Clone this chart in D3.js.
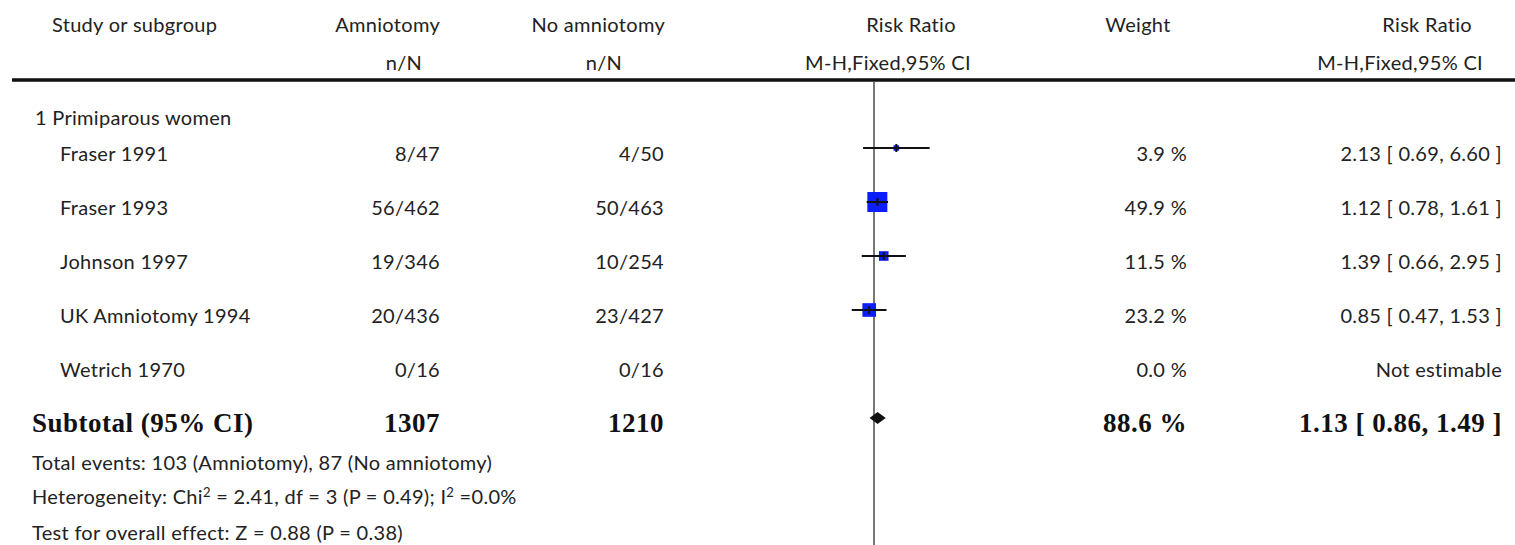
<!DOCTYPE html>
<html lang="en">

<head>
  <meta charset="utf-8">
  <title>Amniotomy forest plot</title>
  <style>
    body {
      margin: 0;
      background: #fff;
    }
    text {
      font-family: Lato, 'Noto Sans', sans-serif;
      font-size: 20px;
      letter-spacing: 0.3px;
      fill: #222;
    }
    .bold {
      font-family: 'Liberation Serif', 'DejaVu Serif', serif;
      font-weight: bold;
      font-size: 27px;
      letter-spacing: 0.5px;
      fill: #111;
    }
  </style>
  <script src="https://d3js.org/d3.v7.min.js"></script>
</head>

<body>
  <script>
    // study level data
    const studies = ["Fraser 1991", "Fraser 1993", "Johnson 1997", "UK Amniotomy 1994", "Wetrich 1970"];
    const amnioEvents = [8, 56, 19, 20, 0];
    const amnioTotal = [47, 462, 346, 436, 16];
    const noAmnioEvents = [4, 50, 10, 23, 0];
    const noAmnioTotal = [50, 463, 254, 427, 16];
    const riskRatio = [2.13, 1.12, 1.39, 0.85, null];
    const ciLow = [0.69, 0.78, 0.66, 0.47, null];
    const ciHigh = [6.60, 1.61, 2.95, 1.53, null];
    const weights = [3.9, 49.9, 11.5, 23.2, 0.0];

    // subtotal
    const subgroupLabel = "1 Primiparous women";
    const subtotalTotals = [1307, 1210];
    const subtotalRR = [1.13, 0.86, 1.49];
    const subtotalWeight = 88.6;

    const svgWidth = 1515;
    const svgHeight = 545;

    const svg = d3.select("body")
      .append("svg")
      .attr("width", svgWidth)
      .attr("height", svgHeight);

    // log scale for the risk ratio, centred on 1
    const x = d3.scaleLog().domain([0.01, 100]).range([874 - 29.5 * Math.log(100), 874 + 29.5 * Math.log(100)]);
    const rowY = d3.scaleLinear().domain([0, 1]).range([148, 202]);
    const boxSize = d3.scaleSqrt().domain([0, 49.9]).range([0, 20]);
    const f2 = d3.format(".2f");
    const f1 = d3.format(".1f");

    // column anchors
    const colStudy = 60;
    const colAmnio = 440;
    const colNoAmnio = 664;
    const colWeight = 1187;
    const colCI = 1502;

    // header
    const header = [
      {t: "Study or subgroup", x: 52, y: 32, a: "start"},
      {t: "Amniotomy", x: 440, y: 32, a: "end"},
      {t: "n/N", x: 404, y: 70, a: "middle"},
      {t: "No amniotomy", x: 665, y: 32, a: "end"},
      {t: "n/N", x: 604, y: 70, a: "middle"},
      {t: "Risk Ratio", x: 911, y: 32, a: "middle"},
      {t: "M-H,Fixed,95% CI", x: 888, y: 70, a: "middle"},
      {t: "Weight", x: 1138, y: 32, a: "middle"},
      {t: "Risk Ratio", x: 1472, y: 32, a: "end"},
      {t: "M-H,Fixed,95% CI", x: 1483, y: 70, a: "end"}
    ];
    svg.selectAll("text.head")
      .data(header)
      .join("text")
      .attr("class", "head")
      .attr("x", d => d.x)
      .attr("y", d => d.y)
      .attr("text-anchor", d => d.a)
      .text(d => d.t);

    svg.append("line")
      .attr("x1", 12).attr("x2", svgWidth)
      .attr("y1", 80).attr("y2", 80)
      .style("stroke", "#111")
      .style("stroke-width", 3.5);

    // line of no effect
    svg.append("line")
      .attr("x1", x(1)).attr("x2", x(1))
      .attr("y1", 82).attr("y2", svgHeight)
      .style("stroke", "#777")
      .style("stroke-width", 2);

    svg.append("text")
      .attr("x", 35)
      .attr("y", 125)
      .text(subgroupLabel);

    // study rows
    const rows = svg.selectAll("g.row")
      .data(studies)
      .join("g")
      .attr("class", "row");

    rows.append("text")
      .attr("x", colStudy)
      .attr("y", (d, i) => rowY(i) + 13)
      .text(d => d);
    rows.append("text")
      .attr("x", colAmnio)
      .attr("y", (d, i) => rowY(i) + 13)
      .attr("text-anchor", "end")
      .text((d, i) => amnioEvents[i] + "/" + amnioTotal[i]);
    rows.append("text")
      .attr("x", colNoAmnio)
      .attr("y", (d, i) => rowY(i) + 13)
      .attr("text-anchor", "end")
      .text((d, i) => noAmnioEvents[i] + "/" + noAmnioTotal[i]);
    rows.append("text")
      .attr("x", colWeight)
      .attr("y", (d, i) => rowY(i) + 13)
      .attr("text-anchor", "end")
      .text((d, i) => f1(weights[i]) + " %");
    rows.append("text")
      .attr("x", colCI)
      .attr("y", (d, i) => rowY(i) + 13)
      .attr("text-anchor", "end")
      .text((d, i) => riskRatio[i] == null ? "Not estimable"
        : f2(riskRatio[i]) + " [ " + f2(ciLow[i]) + ", " + f2(ciHigh[i]) + " ]");

    const est = studies.map((s, i) => i).filter(i => riskRatio[i] != null);

    svg.selectAll("rect.box")
      .data(est)
      .join("rect")
      .attr("class", "box")
      .attr("x", i => x(riskRatio[i]) - boxSize(weights[i]) / 2)
      .attr("y", i => rowY(i) - boxSize(weights[i]) / 2)
      .attr("width", i => boxSize(weights[i]))
      .attr("height", i => boxSize(weights[i]))
      .style("fill", "#0a1eff");

    svg.selectAll("line.ci")
      .data(est)
      .join("line")
      .attr("class", "ci")
      .attr("x1", i => x(ciLow[i]))
      .attr("x2", i => x(ciHigh[i]))
      .attr("y1", i => rowY(i))
      .attr("y2", i => rowY(i))
      .style("stroke", "#111")
      .style("stroke-width", 2);

    svg.selectAll("line.tick")
      .data(est)
      .join("line")
      .attr("class", "tick")
      .attr("x1", i => x(riskRatio[i]))
      .attr("x2", i => x(riskRatio[i]))
      .attr("y1", i => rowY(i) - 4)
      .attr("y2", i => rowY(i) + 4)
      .style("stroke", "#111")
      .style("stroke-width", 2);

    // subtotal
    const subY = rowY(5);
    svg.append("text").attr("class", "bold")
      .attr("x", 32).attr("y", subY + 14)
      .text("Subtotal (95% CI)");
    svg.append("text").attr("class", "bold")
      .attr("x", colAmnio).attr("y", subY + 14).attr("text-anchor", "end")
      .text(subtotalTotals[0]);
    svg.append("text").attr("class", "bold")
      .attr("x", colNoAmnio).attr("y", subY + 14).attr("text-anchor", "end")
      .text(subtotalTotals[1]);
    svg.append("text").attr("class", "bold")
      .attr("x", colWeight).attr("y", subY + 14).attr("text-anchor", "end")
      .text(f1(subtotalWeight) + " %");
    svg.append("text").attr("class", "bold")
      .attr("x", colCI).attr("y", subY + 14).attr("text-anchor", "end")
      .text(f2(subtotalRR[0]) + " [ " + f2(subtotalRR[1]) + ", " + f2(subtotalRR[2]) + " ]");

    const diamond = [
      [x(subtotalRR[1]), subY],
      [x(subtotalRR[0]), subY - 6],
      [x(subtotalRR[2]), subY],
      [x(subtotalRR[0]), subY + 6]
    ];
    svg.append("path")
      .attr("d", d3.line()(diamond) + "Z")
      .style("fill", "#111");

    // footer notes
    svg.append("text")
      .attr("x", 32).attr("y", 470)
      .text("Total events: " + d3.sum(amnioEvents) + " (Amniotomy), " + d3.sum(noAmnioEvents) + " (No amniotomy)");

    const het = svg.append("text").attr("x", 32).attr("y", 504);
    het.append("tspan").text("Heterogeneity: Chi");
    het.append("tspan").attr("dy", -7).style("font-size", "13px").text("2");
    het.append("tspan").attr("dy", 7).text(" = 2.41, df = 3 (P = 0.49); I");
    het.append("tspan").attr("dy", -7).style("font-size", "13px").text("2");
    het.append("tspan").attr("dy", 7).text(" =0.0%");

    svg.append("text")
      .attr("x", 32).attr("y", 540)
      .text("Test for overall effect: Z = 0.88 (P = 0.38)");
  </script>
</body>

</html>
